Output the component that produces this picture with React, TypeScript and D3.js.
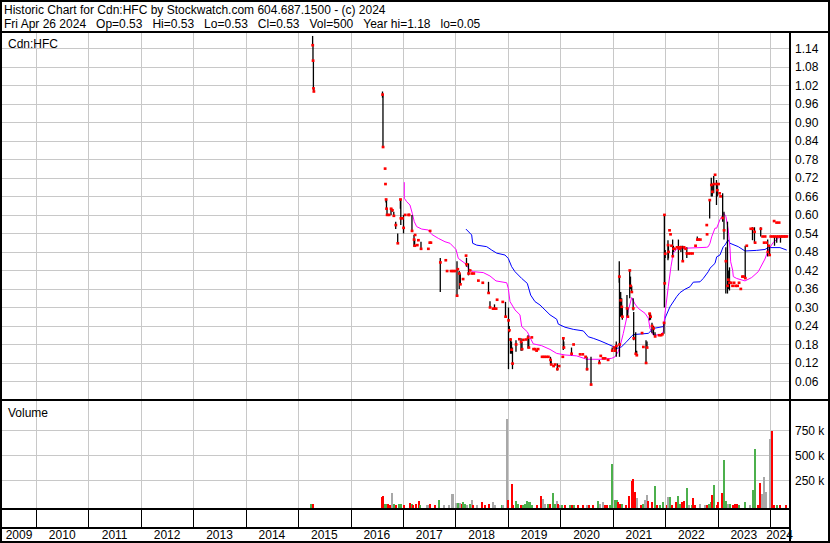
import React from 'react';
import * as d3 from 'd3';

const W = 830;
const H = 543;

const headerLine1 = 'Historic Chart for Cdn:HFC by Stockwatch.com 604.687.1500 - (c) 2024';
const headerLine2 = 'Fri Apr 26 2024  Op=0.53  Hi=0.53  Lo=0.53  Cl=0.53  Vol=500  Year hi=1.18  lo=0.05';
const symbolLabel = 'Cdn:HFC';
const volumeLabel = 'Volume';

const priceTicks = [1.14, 1.08, 1.02, 0.96, 0.9, 0.84, 0.78, 0.72, 0.66, 0.6, 0.54, 0.48, 0.42, 0.36, 0.3, 0.24, 0.18, 0.12, 0.06];
const volumeTicks = [250000, 500000, 750000];
const volumeTickLabels = ['250 k', '500 k', '750 k'];
const yearLabels = [2009, 2010, 2011, 2012, 2013, 2014, 2015, 2016, 2017, 2018, 2019, 2020, 2021, 2022, 2023, 2024];
const timeDomain = [2009.3515, 2024.3624];

// [decimal year, high, low, close]
const priceBars: [number, number, number, number][] = [
  [2015.276, 1.18, 1.15, 1.15], [2015.283, 1.15, 1.1, 1.1], [2015.291, 1.1, 1.01, 1.01], [2015.298, 1.01, 1.0, 1.0],
  [2016.609, 1.0, 0.98, 0.99], [2016.618, 0.99, 0.82, 0.82], [2016.657, 0.75, 0.75, 0.75], [2016.664, 0.7, 0.7, 0.7],
  [2016.676, 0.65, 0.64, 0.65], [2016.685, 0.65, 0.62, 0.62], [2016.695, 0.62, 0.6, 0.6], [2016.733, 0.6, 0.6, 0.6],
  [2016.771, 0.62, 0.6, 0.62], [2016.796, 0.62, 0.61, 0.615], [2016.824, 0.61, 0.597, 0.597], [2016.861, 0.578, 0.554, 0.567],
  [2016.899, 0.54, 0.508, 0.508], [2016.95, 0.65, 0.62, 0.65], [2016.958, 0.65, 0.567, 0.589], [2016.987, 0.589, 0.589, 0.589],
  [2017.01, 0.6, 0.54, 0.558], [2017.04, 0.6, 0.6, 0.6], [2017.105, 0.6, 0.6, 0.6], [2017.115, 0.6, 0.6, 0.6],
  [2017.171, 0.6, 0.546, 0.548], [2017.21, 0.535, 0.497, 0.52], [2017.222, 0.52, 0.5, 0.5], [2017.229, 0.535, 0.535, 0.535],
  [2017.271, 0.502, 0.502, 0.502], [2017.292, 0.518, 0.518, 0.518], [2017.343, 0.513, 0.49, 0.49], [2017.482, 0.49, 0.49, 0.49],
  [2017.509, 0.51, 0.51, 0.51], [2017.515, 0.548, 0.548, 0.548], [2017.53, 0.51, 0.51, 0.51], [2017.711, 0.46, 0.35, 0.446],
  [2017.814, 0.453, 0.453, 0.453], [2017.839, 0.418, 0.418, 0.418], [2017.915, 0.418, 0.418, 0.418], [2017.953, 0.418, 0.418, 0.418],
  [2017.991, 0.418, 0.418, 0.418], [2018.03, 0.45, 0.338, 0.338], [2018.043, 0.424, 0.424, 0.424], [2018.072, 0.418, 0.36, 0.41],
  [2018.093, 0.41, 0.375, 0.375], [2018.144, 0.392, 0.392, 0.392], [2018.201, 0.468, 0.468, 0.468], [2018.211, 0.461, 0.432, 0.44],
  [2018.249, 0.443, 0.404, 0.41], [2018.278, 0.42, 0.42, 0.42], [2018.31, 0.41, 0.41, 0.41], [2018.348, 0.41, 0.41, 0.41],
  [2018.436, 0.387, 0.387, 0.387], [2018.52, 0.38, 0.38, 0.38], [2018.631, 0.383, 0.345, 0.347], [2018.659, 0.32, 0.3, 0.3],
  [2018.716, 0.296, 0.296, 0.296], [2018.745, 0.31, 0.296, 0.296], [2018.774, 0.296, 0.296, 0.296], [2018.793, 0.325, 0.325, 0.325],
  [2018.901, 0.318, 0.318, 0.318], [2018.955, 0.318, 0.27, 0.27], [2019.012, 0.3, 0.1, 0.258], [2019.027, 0.24, 0.22, 0.226],
  [2019.05, 0.2, 0.15, 0.196], [2019.069, 0.19, 0.15, 0.163], [2019.088, 0.17, 0.1, 0.118], [2019.155, 0.194, 0.156, 0.18],
  [2019.218, 0.197, 0.197, 0.197], [2019.251, 0.2, 0.16, 0.188], [2019.27, 0.188, 0.16, 0.165], [2019.294, 0.195, 0.195, 0.195],
  [2019.346, 0.196, 0.196, 0.196], [2019.384, 0.21, 0.167, 0.202], [2019.399, 0.2, 0.17, 0.17], [2019.455, 0.203, 0.203, 0.203],
  [2019.489, 0.165, 0.165, 0.165], [2019.518, 0.165, 0.165, 0.165], [2019.546, 0.16, 0.16, 0.16], [2019.575, 0.165, 0.165, 0.165],
  [2019.651, 0.14, 0.14, 0.14], [2019.689, 0.14, 0.14, 0.14], [2019.727, 0.14, 0.14, 0.14], [2019.771, 0.14, 0.14, 0.14],
  [2019.813, 0.14, 0.115, 0.13], [2019.826, 0.13, 0.115, 0.115], [2019.87, 0.11, 0.11, 0.11], [2019.899, 0.115, 0.115, 0.115],
  [2019.943, 0.118, 0.096, 0.1], [2019.975, 0.11, 0.11, 0.11], [2020.046, 0.14, 0.14, 0.14], [2020.057, 0.203, 0.162, 0.2],
  [2020.067, 0.19, 0.17, 0.17], [2020.214, 0.17, 0.145, 0.15], [2020.252, 0.18, 0.18, 0.18], [2020.376, 0.148, 0.148, 0.148],
  [2020.427, 0.148, 0.148, 0.148], [2020.481, 0.14, 0.14, 0.14], [2020.509, 0.14, 0.096, 0.1], [2020.586, 0.14, 0.048, 0.05],
  [2020.744, 0.13, 0.12, 0.12], [2020.77, 0.143, 0.143, 0.143], [2020.814, 0.135, 0.135, 0.135], [2020.853, 0.135, 0.135, 0.135],
  [2020.91, 0.13, 0.13, 0.13], [2020.99, 0.17, 0.157, 0.16], [2021.025, 0.17, 0.17, 0.17], [2021.044, 0.17, 0.157, 0.16],
  [2021.068, 0.19, 0.14, 0.175], [2021.125, 0.45, 0.38, 0.4], [2021.129, 0.4, 0.14, 0.18], [2021.152, 0.35, 0.27, 0.323],
  [2021.171, 0.33, 0.27, 0.302], [2021.183, 0.3, 0.26, 0.27], [2021.272, 0.34, 0.27, 0.297], [2021.286, 0.3, 0.27, 0.27],
  [2021.324, 0.42, 0.33, 0.42], [2021.339, 0.4, 0.36, 0.37], [2021.362, 0.37, 0.35, 0.35], [2021.39, 0.33, 0.29, 0.297],
  [2021.4, 0.285, 0.194, 0.2], [2021.438, 0.22, 0.15, 0.15], [2021.457, 0.16, 0.145, 0.145], [2021.558, 0.217, 0.217, 0.217],
  [2021.583, 0.172, 0.172, 0.172], [2021.635, 0.194, 0.12, 0.12], [2021.654, 0.19, 0.17, 0.17], [2021.702, 0.282, 0.258, 0.28],
  [2021.721, 0.28, 0.26, 0.27], [2021.749, 0.25, 0.216, 0.24], [2021.778, 0.24, 0.21, 0.232], [2021.807, 0.22, 0.206, 0.206],
  [2021.883, 0.21, 0.21, 0.21], [2021.921, 0.21, 0.21, 0.21], [2021.946, 0.213, 0.213, 0.213], [2021.978, 0.25, 0.215, 0.25],
  [2021.985, 0.6, 0.3, 0.6], [2021.99, 0.486, 0.378, 0.378], [2022.0, 0.486, 0.46, 0.474], [2022.054, 0.518, 0.453, 0.502],
  [2022.063, 0.5, 0.459, 0.48], [2022.082, 0.55, 0.55, 0.55], [2022.101, 0.537, 0.537, 0.537], [2022.12, 0.5, 0.5, 0.5],
  [2022.143, 0.52, 0.465, 0.466], [2022.158, 0.5, 0.48, 0.49], [2022.177, 0.49, 0.49, 0.49], [2022.225, 0.495, 0.495, 0.495],
  [2022.253, 0.52, 0.42, 0.495], [2022.272, 0.49, 0.49, 0.49], [2022.301, 0.5, 0.48, 0.495], [2022.334, 0.5, 0.45, 0.45],
  [2022.359, 0.495, 0.495, 0.495], [2022.388, 0.49, 0.49, 0.49], [2022.413, 0.495, 0.46, 0.475], [2022.445, 0.475, 0.475, 0.475],
  [2022.483, 0.475, 0.475, 0.475], [2022.521, 0.475, 0.475, 0.475], [2022.578, 0.5, 0.5, 0.5], [2022.613, 0.53, 0.515, 0.52],
  [2022.636, 0.52, 0.52, 0.52], [2022.67, 0.52, 0.52, 0.52], [2022.792, 0.567, 0.567, 0.567], [2022.798, 0.537, 0.537, 0.537],
  [2022.849, 0.65, 0.588, 0.648], [2022.88, 0.72, 0.66, 0.697], [2022.899, 0.7, 0.66, 0.675], [2022.926, 0.726, 0.67, 0.7],
  [2022.951, 0.73, 0.73, 0.73], [2022.979, 0.713, 0.632, 0.7], [2022.994, 0.7, 0.66, 0.68], [2023.017, 0.7, 0.7, 0.7],
  [2023.036, 0.67, 0.67, 0.67], [2023.055, 0.66, 0.66, 0.66], [2023.097, 0.67, 0.578, 0.59], [2023.122, 0.61, 0.52, 0.55],
  [2023.157, 0.495, 0.345, 0.45], [2023.189, 0.578, 0.345, 0.37], [2023.204, 0.42, 0.36, 0.39], [2023.227, 0.43, 0.355, 0.38],
  [2023.256, 0.38, 0.38, 0.38], [2023.284, 0.37, 0.37, 0.37], [2023.313, 0.38, 0.38, 0.38], [2023.342, 0.37, 0.37, 0.37],
  [2023.38, 0.37, 0.37, 0.37], [2023.408, 0.38, 0.38, 0.38], [2023.441, 0.36, 0.36, 0.36], [2023.472, 0.4, 0.4, 0.4],
  [2023.495, 0.4, 0.4, 0.4], [2023.527, 0.5, 0.395, 0.395], [2023.555, 0.5, 0.5, 0.5], [2023.631, 0.555, 0.555, 0.555],
  [2023.666, 0.56, 0.518, 0.555], [2023.704, 0.56, 0.51, 0.545], [2023.714, 0.51, 0.51, 0.51], [2023.823, 0.56, 0.53, 0.555],
  [2023.857, 0.53, 0.53, 0.53], [2023.886, 0.51, 0.51, 0.51], [2023.905, 0.53, 0.53, 0.53], [2023.934, 0.51, 0.51, 0.51],
  [2023.956, 0.52, 0.465, 0.48], [2023.972, 0.5, 0.5, 0.5], [2023.991, 0.5, 0.47, 0.47], [2024.013, 0.53, 0.53, 0.53],
  [2024.052, 0.53, 0.53, 0.53], [2024.077, 0.58, 0.58, 0.58], [2024.086, 0.53, 0.5, 0.53], [2024.124, 0.575, 0.575, 0.575],
  [2024.128, 0.53, 0.51, 0.53], [2024.162, 0.53, 0.53, 0.53], [2024.172, 0.575, 0.575, 0.575], [2024.2, 0.53, 0.51, 0.53],
  [2024.229, 0.53, 0.53, 0.53], [2024.258, 0.53, 0.53, 0.53], [2024.286, 0.53, 0.53, 0.53], [2024.318, 0.53, 0.53, 0.53],
];

// short moving average (magenta): [decimal year, value]
const maShort: [number, number][] = [
  [2017.025, 0.706], [2017.025, 0.654], [2017.07, 0.643], [2017.133, 0.632], [2017.177, 0.605], [2017.215, 0.578],
  [2017.261, 0.562], [2017.357, 0.554], [2017.482, 0.551], [2017.547, 0.537], [2017.673, 0.524], [2017.801, 0.513],
  [2017.896, 0.508], [2018.011, 0.488], [2018.055, 0.459], [2018.182, 0.443], [2018.278, 0.421], [2018.341, 0.416],
  [2018.531, 0.413], [2018.659, 0.402], [2018.774, 0.386], [2018.978, 0.38], [2019.008, 0.362], [2019.041, 0.319],
  [2019.136, 0.292], [2019.231, 0.276], [2019.264, 0.238], [2019.371, 0.221], [2019.422, 0.203], [2019.485, 0.182],
  [2019.645, 0.176], [2019.804, 0.164], [2019.931, 0.151], [2020.09, 0.146], [2020.313, 0.143], [2020.504, 0.132],
  [2020.79, 0.132], [2020.98, 0.135], [2021.043, 0.14], [2021.106, 0.157], [2021.139, 0.173], [2021.202, 0.216],
  [2021.297, 0.29], [2021.362, 0.332], [2021.425, 0.311], [2021.488, 0.297], [2021.616, 0.281], [2021.679, 0.265],
  [2021.711, 0.232], [2021.774, 0.211], [2021.902, 0.211], [2021.965, 0.221], [2021.997, 0.281], [2022.06, 0.367],
  [2022.111, 0.432], [2022.155, 0.476], [2022.22, 0.489], [2022.378, 0.492], [2022.665, 0.494], [2022.792, 0.495],
  [2022.823, 0.497], [2022.855, 0.508], [2022.888, 0.529], [2022.951, 0.557], [2022.983, 0.557], [2023.046, 0.585],
  [2023.109, 0.602], [2023.122, 0.605], [2023.16, 0.594], [2023.204, 0.551], [2023.237, 0.492], [2023.25, 0.448],
  [2023.288, 0.421], [2023.3, 0.4], [2023.364, 0.394], [2023.523, 0.386], [2023.651, 0.397], [2023.776, 0.416],
  [2023.904, 0.457], [2023.967, 0.486], [2024.063, 0.511], [2024.19, 0.529], [2024.349, 0.532],
];

// long moving average (blue): [decimal year, value]
const maLong: [number, number][] = [
  [2018.201, 0.554], [2018.31, 0.535], [2018.329, 0.508], [2018.406, 0.502], [2018.596, 0.497], [2018.692, 0.486],
  [2018.787, 0.476], [2018.945, 0.47], [2019.008, 0.459], [2019.073, 0.432], [2019.136, 0.416], [2019.264, 0.394],
  [2019.371, 0.378], [2019.435, 0.34], [2019.517, 0.319], [2019.613, 0.308], [2019.708, 0.292], [2019.804, 0.276],
  [2019.931, 0.262], [2019.962, 0.246], [2020.09, 0.236], [2020.248, 0.229], [2020.439, 0.224], [2020.534, 0.205],
  [2020.629, 0.2], [2020.757, 0.192], [2020.948, 0.178], [2021.076, 0.168], [2021.106, 0.168], [2021.171, 0.173],
  [2021.266, 0.189], [2021.362, 0.207], [2021.392, 0.212], [2021.679, 0.216], [2021.774, 0.232], [2021.965, 0.238],
  [2021.997, 0.265], [2022.092, 0.302], [2022.22, 0.335], [2022.283, 0.348], [2022.378, 0.359], [2022.474, 0.367],
  [2022.537, 0.382], [2022.665, 0.383], [2022.727, 0.394], [2022.823, 0.416], [2022.855, 0.427], [2022.951, 0.443],
  [2022.983, 0.464], [2023.046, 0.47], [2023.109, 0.497], [2023.141, 0.502], [2023.185, 0.515], [2023.204, 0.519],
  [2023.237, 0.508], [2023.395, 0.497], [2023.523, 0.483], [2023.746, 0.485], [2023.904, 0.488], [2023.967, 0.494],
  [2024.19, 0.494], [2024.318, 0.486],
];

// [decimal year, volume (thousands), direction: u=up, d=down, n=unchanged]
const volumeBars: [number, number, string][] = [
  [2015.251, 15, 'u'], [2015.289, 10, 'd'],
  [2016.593, 83, 'd'], [2016.624, 90, 'd'], [2016.656, 19, 'u'], [2016.688, 10, 'u'], [2016.72, 10, 'd'], [2016.751, 5, 'd'],
  [2016.796, 122, 'n'], [2016.828, 10, 'u'], [2016.86, 5, 'd'], [2016.929, 12, 'u'], [2016.955, 12, 'u'], [2017.025, 5, 'd'],
  [2017.133, 26, 'd'], [2017.165, 12, 'u'], [2017.197, 5, 'd'], [2017.247, 14, 'd'], [2017.305, 42, 'd'], [2017.324, 5, 'u'],
  [2017.451, 5, 'n'], [2017.483, 5, 'n'], [2017.514, 10, 'd'], [2017.61, 5, 'd'], [2017.692, 58, 'u'], [2017.781, 5, 'n'],
  [2017.87, 5, 'n'], [2017.928, 115, 'n'], [2017.959, 115, 'n'], [2018.01, 26, 'n'], [2018.055, 26, 'u'], [2018.087, 26, 'n'],
  [2018.118, 10, 'd'], [2018.15, 35, 'u'], [2018.182, 19, 'u'], [2018.214, 5, 'n'], [2018.277, 10, 'u'], [2018.309, 51, 'n'],
  [2018.341, 5, 'd'], [2018.404, 5, 'n'], [2018.5, 35, 'd'], [2018.563, 5, 'd'], [2018.646, 19, 'd'], [2018.71, 35, 'n'],
  [2018.754, 5, 'n'], [2018.881, 3, 'u'], [2018.913, 3, 'n'], [2018.977, 860, 'n'], [2019.008, 51, 'd'], [2019.072, 211, 'd'],
  [2019.104, 5, 'd'], [2019.155, 42, 'u'], [2019.199, 10, 'u'], [2019.25, 5, 'd'], [2019.282, 5, 'u'], [2019.326, 19, 'u'],
  [2019.358, 42, 'u'], [2019.39, 35, 'u'], [2019.422, 35, 'u'], [2019.454, 5, 'u'], [2019.549, 3, 'd'], [2019.625, 90, 'd'],
  [2019.663, 67, 'n'], [2019.708, 10, 'n'], [2019.771, 19, 'u'], [2019.803, 10, 'd'], [2019.867, 122, 'u'], [2019.899, 10, 'u'],
  [2019.93, 42, 'n'], [2019.962, 19, 'd'], [2019.994, 5, 'n'], [2020.026, 3, 'u'], [2020.089, 3, 'd'], [2020.185, 3, 'u'],
  [2020.216, 5, 'd'], [2020.261, 3, 'u'], [2020.344, 3, 'd'], [2020.439, 3, 'd'], [2020.503, 5, 'n'], [2020.553, 5, 'd'],
  [2020.617, 3, 'd'], [2020.725, 42, 'u'], [2020.757, 19, 'n'], [2020.808, 35, 'n'], [2020.852, 5, 'd'], [2020.897, 3, 'd'],
  [2020.948, 3, 'u'], [2020.979, 415, 'u'], [2021.043, 51, 'u'], [2021.074, 51, 'u'], [2021.106, 35, 'd'], [2021.138, 19, 'd'],
  [2021.17, 10, 'u'], [2021.253, 5, 'd'], [2021.316, 90, 'd'], [2021.361, 243, 'd'], [2021.393, 259, 'd'], [2021.424, 131, 'd'],
  [2021.456, 75, 'n'], [2021.532, 5, 'd'], [2021.583, 19, 'u'], [2021.615, 51, 'n'], [2021.647, 106, 'n'], [2021.679, 42, 'd'],
  [2021.742, 35, 'd'], [2021.806, 195, 'u'], [2021.85, 5, 'd'], [2021.901, 5, 'u'], [2021.952, 35, 'u'], [2022.028, 3, 'd'],
  [2022.06, 83, 'n'], [2022.092, 83, 'u'], [2022.124, 5, 'd'], [2022.206, 35, 'd'], [2022.238, 93, 'u'], [2022.283, 19, 'u'],
  [2022.314, 35, 'd'], [2022.359, 42, 'd'], [2022.41, 170, 'u'], [2022.461, 5, 'n'], [2022.505, 5, 'u'], [2022.537, 74, 'd'],
  [2022.569, 5, 'd'], [2022.664, 19, 'n'], [2022.76, 5, 'n'], [2022.804, 3, 'd'], [2022.842, 19, 'u'], [2022.867, 35, 'u'],
  [2022.899, 106, 'd'], [2022.931, 202, 'u'], [2022.982, 5, 'd'], [2023.014, 35, 'd'], [2023.077, 125, 'd'], [2023.122, 450, 'u'],
  [2023.16, 42, 'u'], [2023.204, 19, 'n'], [2023.236, 10, 'u'], [2023.287, 5, 'd'], [2023.332, 10, 'd'], [2023.364, 19, 'd'],
  [2023.414, 5, 'u'], [2023.522, 35, 'u'], [2023.618, 3, 'n'], [2023.681, 157, 'u'], [2023.713, 560, 'u'], [2023.777, 5, 'd'],
  [2023.809, 220, 'd'], [2023.841, 115, 'n'], [2023.885, 285, 'n'], [2023.923, 131, 'n'], [2023.998, 665, 'n'], [2024.039, 740, 'd'],
  [2024.071, 5, 'd'], [2024.134, 3, 'u'], [2024.198, 3, 'd'], [2024.3, 5, 'd'],
];

const FONT = '"Liberation Sans", Arial, sans-serif';
const GRID = '#c8c8c8';

export default function App() {
  const plotL = 2;
  const plotR = 789;
  const priceTop = 33;
  const priceBottom = 399;
  const volTop = 401;
  const volBottom = 508;

  const x = d3.scaleLinear().domain(timeDomain).range([plotL, plotR]);
  const y = d3.scaleLinear().domain([0, 1.14]).range([400, 48.3]);
  const yv = d3.scaleLinear().domain([0, 750000]).range([505.5, 430]);

  const yearStarts = d3.range(yearLabels[0] + 1, yearLabels[yearLabels.length - 1] + 1);

  const lineGen = d3
    .line<[number, number]>()
    .x((d) => x(d[0]))
    .y((d) => y(d[1]));

  const volColor = (c: string) => (c === 'u' ? '#4cb04c' : c === 'd' ? '#ff0000' : '#a8a8a8');

  return (
    <svg
      width={W}
      height={H}
      style={{ position: 'absolute', left: 0, top: 0, display: 'block', background: '#fff' }}
      fontFamily={FONT}
    >
      <rect x={0} y={0} width={W} height={H} fill="#fff" />
      {/* header */}
      <text x={4} y={14} fontSize={12} fill="#000" xmlSpace="preserve">
        {headerLine1}
      </text>
      <text x={4} y={28} fontSize={12} fill="#000" xmlSpace="preserve">
        {headerLine2.replace(/  /g, '\u00a0\u00a0\u00a0')}
      </text>

      {/* grid */}
      <g shapeRendering="crispEdges">
        {priceTicks.map((p) => (
          <line key={'pg' + p} x1={plotL} x2={plotR} y1={Math.round(y(p)) + 0.5} y2={Math.round(y(p)) + 0.5} stroke={GRID} />
        ))}
        {yearStarts.map((yr) => (
          <line key={'pv' + yr} x1={Math.round(x(yr)) + 0.5} x2={Math.round(x(yr)) + 0.5} y1={priceTop} y2={priceBottom} stroke={GRID} />
        ))}
        {volumeTicks.map((v) => (
          <line key={'vg' + v} x1={plotL} x2={plotR} y1={Math.round(yv(v)) + 0.5} y2={Math.round(yv(v)) + 0.5} stroke={GRID} />
        ))}
        {yearStarts.map((yr) => (
          <line key={'vv' + yr} x1={Math.round(x(yr)) + 0.5} x2={Math.round(x(yr)) + 0.5} y1={volTop} y2={volBottom} stroke={GRID} />
        ))}
      </g>

      {/* moving averages */}
      <path d={lineGen(maLong) || ''} fill="none" stroke="#0000ff" strokeWidth={1} />
      <path d={lineGen(maShort) || ''} fill="none" stroke="#ff00ff" strokeWidth={1} />

      {/* price bars */}
      <g>
        {priceBars.map((b, i) => (
          <line
            key={'hl' + i}
            x1={x(b[0])}
            x2={x(b[0])}
            y1={y(b[1])}
            y2={y(b[2])}
            stroke="#000"
            strokeWidth={1.3}
          />
        ))}
        {priceBars.map((b, i) => (
          <rect key={'c' + i} x={x(b[0]) - 1.3} y={y(b[3]) - 1.3} width={2.8} height={2.6} fill="#ff0000" />
        ))}
      </g>

      {/* volume bars */}
      <g shapeRendering="crispEdges">
        {volumeBars.map((v, i) => (
          <rect
            key={'v' + i}
            x={x(v[0]) - 1}
            y={yv(v[1] * 1000)}
            width={2}
            height={volBottom - yv(v[1] * 1000)}
            fill={volColor(v[2])}
          />
        ))}
      </g>

      {/* labels */}
      <text x={8} y={48} fontSize={12} fill="#000">
        {symbolLabel}
      </text>
      <text x={8} y={417} fontSize={12} fill="#000">
        {volumeLabel}
      </text>
      {priceTicks.map((p) => (
        <text key={'pl' + p} x={795} y={y(p) + 4.5} fontSize={12} fill="#000">
          {p.toFixed(2)}
        </text>
      ))}
      {volumeTicks.map((v, i) => (
        <text key={'vl' + v} x={795} y={yv(v) + 4.5} fontSize={12} fill="#000">
          {volumeTickLabels[i]}
        </text>
      ))}

      {/* x axis rows */}
      <g shapeRendering="crispEdges">
        {yearStarts.map((yr) => (
          <line key={'xt' + yr} x1={Math.round(x(yr)) + 0.5} x2={Math.round(x(yr)) + 0.5} y1={510} y2={527} stroke="#000" />
        ))}
      </g>
      {yearLabels.map((yr) => {
        const a = Math.max(x(yr), plotL);
        const b = Math.min(x(yr + 1), plotR);
        return (
          <text key={'yl' + yr} x={(a + b) / 2} y={539} fontSize={12} textAnchor="middle" fill="#000">
            {yr}
          </text>
        );
      })}

      {/* frame lines */}
      <g shapeRendering="crispEdges" fill="#000">
        <rect x={0} y={0} width={W} height={2} />
        <rect x={0} y={H - 2} width={W} height={2} />
        <rect x={0} y={0} width={2} height={H} />
        <rect x={W - 2} y={0} width={2} height={H} />
        <rect x={0} y={31} width={W} height={2} />
        <rect x={0} y={399} width={W} height={2} />
        <rect x={0} y={508} width={plotR + 1} height={2} />
        <rect x={0} y={527} width={plotR + 1} height={2} />
        <rect x={plotR} y={31} width={2} height={H - 31} />
      </g>
    </svg>
  );
}
